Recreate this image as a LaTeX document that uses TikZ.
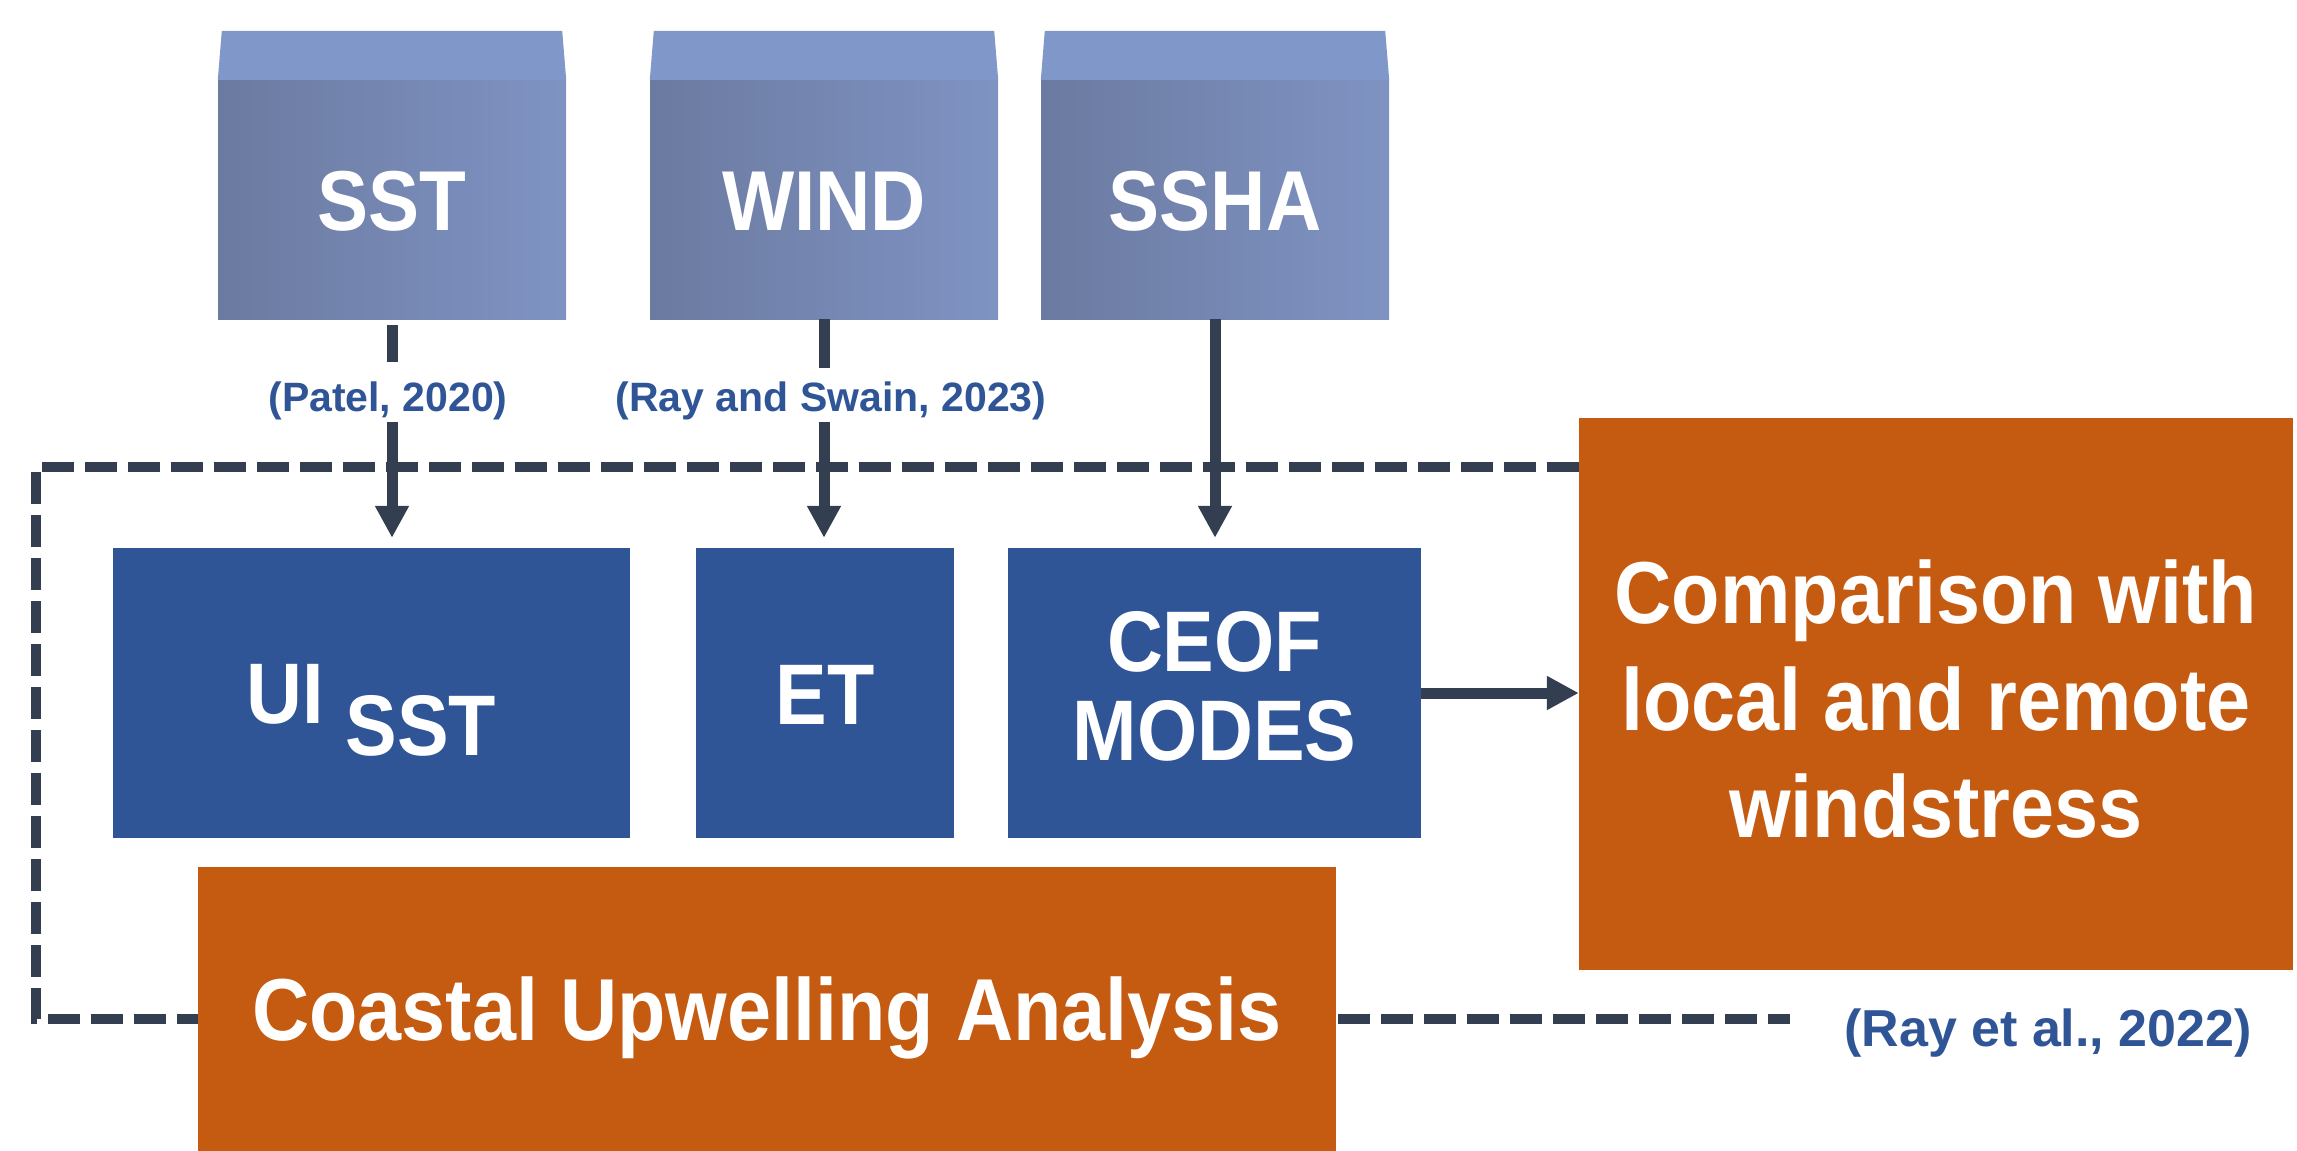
\documentclass[tikz,border=0pt]{standalone}
\usepackage{fontspec}
\setmainfont{Liberation Sans}
\newfontfamily\condfont[FakeStretch=0.9]{Liberation Sans}
\usetikzlibrary{arrows.meta}
\definecolor{boxblue}{HTML}{2F5597}
\definecolor{orng}{HTML}{C55A11}
\definecolor{linec}{HTML}{333F50}
\definecolor{topface}{HTML}{7F97C9}
\definecolor{gradL}{HTML}{6B7AA0}
\definecolor{gradR}{HTML}{7F93C3}
\begin{document}
\begin{tikzpicture}[x=1pt,y=-1pt,
  databox/.style={rectangle, inner sep=0pt, left color=gradL, right color=gradR,
    minimum width=348pt, minimum height=239pt, text=white,
    font=\condfont\bfseries\fontsize{85}{90}\selectfont, text height=61pt, text depth=0pt},
  topcap/.style={fill=topface},
  bluebox/.style={rectangle, inner sep=0pt, fill=boxblue, minimum height=290pt, text=white,
    font=\condfont\bfseries\fontsize{86}{89}\selectfont},
  orangebox/.style={rectangle, inner sep=0pt, fill=orng, text=white,
    font=\condfont\bfseries\fontsize{88}{107}\selectfont},
  boxtext/.style={inner sep=0pt, text=white, align=center},
  reflabel/.style={inner sep=0pt, anchor=base, text=boxblue, font=\bfseries\fontsize{41}{45}\selectfont,
    text height=30pt, text depth=9pt},
  conn/.style={draw=linec, line width=11pt},
  arr/.style={conn, -{Triangle[length=32pt, width=32pt]}},
  frame/.style={draw=linec, line width=10.5pt, dash pattern=on 32pt off 11pt}
]
\useasboundingbox (0,0) rectangle (2297,1151);

% dashed frame
\coordinate (f1) at (1579,467);
\coordinate (f2) at (36,467);
\coordinate (f3) at (36,1019);
\coordinate (f4) at (1790,1019);
\draw[frame] (f1) -- (f2) -- (f3) -- (f4);

% data boxes
\node[databox] (sst) at (392,199.5) {SST};
\node[databox] (wind) at (824,199.5) {WIND};
\node[databox] (ssha) at (1215,199.5) {SSHA};
\foreach \b in {sst,wind,ssha}{
  \fill[topcap] (\b.north west) -- ([xshift=4pt,yshift=49pt]\b.north west)
     -- ([xshift=-4pt,yshift=49pt]\b.north east) -- (\b.north east) -- cycle;
}

% method boxes
\node[bluebox, minimum width=517pt, text height=92pt, text depth=32pt] (uisst) at (371.5,693) {UI~\raisebox{-32pt}{SST}};
\node[bluebox, minimum width=258pt, text height=62pt, text depth=0pt] (et) at (825,693) {ET};
\node[bluebox, minimum width=413pt] (ceof) at (1214.5,693) {};
\node[boxtext, font=\condfont\bfseries\fontsize{86}{89}\selectfont] (ceoftxt) at (1214.5,686) {CEOF\\MODES};

% analysis boxes
\node[orangebox, minimum width=714pt, minimum height=552pt] (comp) at (1936,694) {};
\node[boxtext, font=\condfont\bfseries\fontsize{88}{107}\selectfont] (comptxt) at (1936,699) {Comparison with\\local and remote\\windstress};
\node[orangebox, minimum width=1138pt, minimum height=284pt, text height=63pt, text depth=0pt] (coast) at (767,1009) {Coastal Upwelling Analysis};

% reference labels
\node[reflabel] (patel) at (388,411) {(Patel, 2020)};
\node[reflabel] (rayswain) at (831,411) {(Ray and Swain, 2023)};
\node[reflabel, font=\bfseries\fontsize{52}{56}\selectfont, text height=38pt, text depth=11pt] (rayetal) at (2048,1046) {(Ray et al., 2022)};

% connectors
\draw[conn, shorten <=6pt, shorten >=19pt] (sst.south) -- (sst.south |- patel.north);
\draw[arr, shorten <=2pt, shorten >=10pt] (sst.south |- patel.south) -- (sst.south |- uisst.north);
\draw[conn, shorten >=13pt] (wind.south) -- (wind.south |- rayswain.north);
\draw[arr, shorten <=2pt, shorten >=10pt] (wind.south |- rayswain.south) -- (wind.south |- et.north);
\draw[arr, shorten >=10pt] (ssha.south) -- (ssha.south |- ceof.north);
\draw[arr] (ceof.east) -- (comp.west |- ceof.east);
\end{tikzpicture}
\end{document}
